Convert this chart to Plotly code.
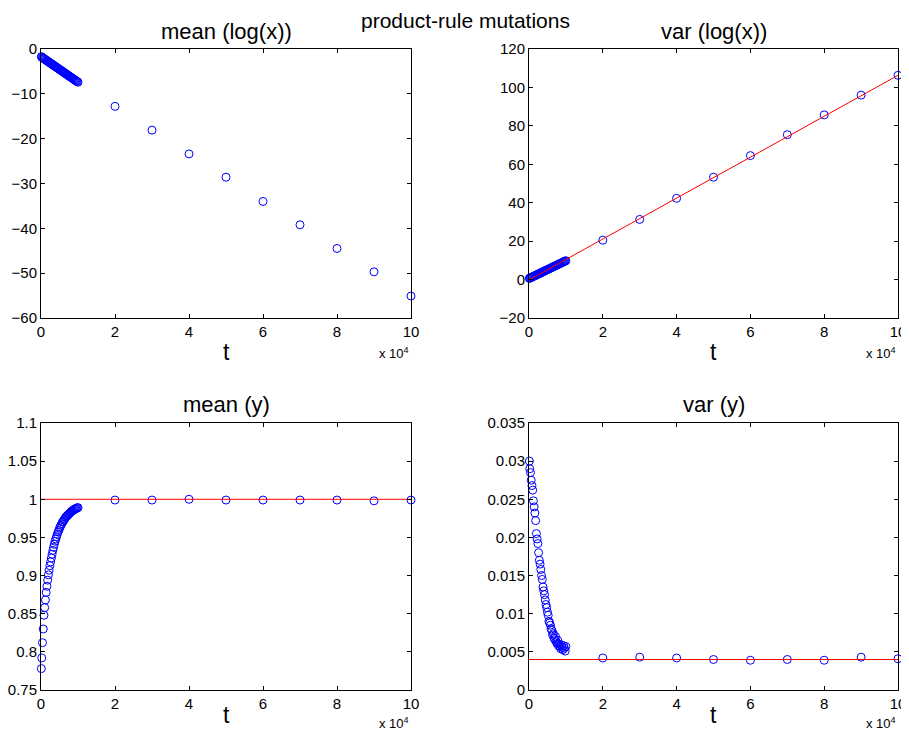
import plotly.graph_objects as go

# ---------------- data ----------------
t_cluster = [100, 200, 400, 600, 800, 1000, 1200, 1400, 1600, 1800,
             2000, 2200, 2400, 2600, 2800, 3000, 3200, 3400, 3600, 3800,
             4000, 4200, 4400, 4600, 4800, 5000, 5200, 5400, 5600, 5800,
             6000, 6200, 6400, 6600, 6800, 7000, 7200, 7400, 7600, 7800,
             8000, 8200, 8400, 8600, 8800, 9000, 9200, 9400, 9600, 9800, 10000]
t_far = [20000, 30000, 40000, 50000, 60000, 70000, 80000, 90000, 100000]

mean_logx_cluster = [-1.70, -1.81, -1.93, -2.04, -2.16, -2.27, -2.38, -2.50, -2.61, -2.73,
                     -2.84, -2.95, -3.07, -3.18, -3.30, -3.41, -3.52, -3.64, -3.75, -3.87,
                     -3.98, -4.09, -4.21, -4.32, -4.44, -4.55, -4.66, -4.78, -4.89, -5.01,
                     -5.12, -5.23, -5.35, -5.46, -5.58, -5.69, -5.80, -5.92, -6.03, -6.15,
                     -6.26, -6.37, -6.49, -6.60, -6.72, -6.83, -6.94, -7.06, -7.17, -7.29, -7.40]
mean_logx_far = [-12.8, -18.1, -23.4, -28.6, -34.0, -39.2, -44.5, -49.7, -55.1]

var_logx_cluster = [0.6, 0.75, 0.9, 1.1, 1.3, 1.45, 1.65, 1.85, 2.0, 2.2,
                    2.4, 2.55, 2.75, 2.95, 3.15, 3.3, 3.5, 3.7, 3.85, 4.05,
                    4.25, 4.45, 4.6, 4.8, 5.0, 5.2, 5.35, 5.55, 5.75, 5.9,
                    6.1, 6.3, 6.5, 6.65, 6.85, 7.05, 7.2, 7.4, 7.6, 7.8,
                    7.95, 8.15, 8.35, 8.5, 8.7, 8.9, 9.1, 9.25, 9.45, 9.65, 9.8]
var_logx_far = [20.5, 31.3, 42.3, 53.3, 64.5, 75.4, 85.7, 96.0, 106.3]
var_logx_fit_t = [0, 100000]
var_logx_fit = [-0.2, 106.3]

mean_y_cluster = [0.778, 0.792, 0.812, 0.830, 0.848, 0.858, 0.868, 0.878, 0.886, 0.894,
                  0.901, 0.907, 0.913, 0.918, 0.923, 0.928, 0.933, 0.937, 0.941, 0.945,
                  0.948, 0.951, 0.954, 0.957, 0.959, 0.962, 0.964, 0.966, 0.968, 0.970,
                  0.971, 0.973, 0.974, 0.976, 0.977, 0.978, 0.979, 0.980, 0.981, 0.982,
                  0.983, 0.984, 0.985, 0.985, 0.986, 0.987, 0.987, 0.988, 0.988, 0.989, 0.989]
mean_y_far = [0.999, 0.999, 1.000, 0.999, 0.999, 0.999, 0.999, 0.998, 0.999]
mean_y_fit = [1.0, 1.0]

var_y_cluster = [0.0300, 0.0290, 0.0285, 0.0275, 0.0268, 0.0262, 0.0248, 0.0240, 0.0232, 0.0222,
                 0.0205, 0.0198, 0.0192, 0.0180, 0.0170, 0.0165, 0.0158, 0.0150, 0.0145, 0.0135,
                 0.0130, 0.0125, 0.0118, 0.0112, 0.0108, 0.0102, 0.0098, 0.0090, 0.0088, 0.0085,
                 0.0080, 0.0078, 0.0072, 0.0074, 0.0068, 0.0066, 0.0070, 0.0063, 0.0061, 0.0065,
                 0.0058, 0.0060, 0.0057, 0.0054, 0.0059, 0.0056, 0.0053, 0.0058, 0.0055, 0.0051, 0.0057]
var_y_far = [0.0042, 0.0043, 0.0042, 0.0040, 0.0039, 0.0040, 0.0039, 0.0043, 0.0041]
var_y_fit = [0.004, 0.004]
fit_t = [0, 100000]

x_tickvals = [0, 20000, 40000, 60000, 80000, 100000]
x_ticktext = ["0", "2", "4", "6", "8", "10"]

titles = ["mean (log(x))", "var (log(x))", "mean (y)", "var (y)"]
suptitle = "product-rule mutations"

# ---------------- layout helpers ----------------
# the page body has an 8px margin: the figure starts at page pixel (8, 8)
OFF = 8
W, H = 909 - OFF, 736 - OFF
def fx(px):
    return (px - OFF) / W
def fy(py):
    return 1 - (py - OFF) / H

FONT = "Liberation Sans, Arial, sans-serif"
BLUE = "#0000FF"
RED = "#FF0000"

# (xaxis, yaxis, left, right, top, bottom, yrange, yticks, t-label y, x10^4 y)
panels = [
    ("x", "y", 41, 411, 49, 318, [-60, 0], [-60, -50, -40, -30, -20, -10, 0], 352, 353),
    ("x2", "y2", 529, 898, 49, 318, [-20, 120], [-20, 0, 20, 40, 60, 80, 100, 120], 352, 353),
    ("x3", "y3", 41, 411, 423, 690, [0.75, 1.1], [0.75, 0.8, 0.85, 0.9, 0.95, 1, 1.05, 1.1], 715, 723),
    ("x4", "y4", 529, 898, 423, 690, [0, 0.035], [0, 0.005, 0.01, 0.015, 0.02, 0.025, 0.03, 0.035], 715, 723),
]

fig = go.Figure()

clusters = [mean_logx_cluster, var_logx_cluster, mean_y_cluster, var_y_cluster]
fars = [mean_logx_far, var_logx_far, mean_y_far, var_y_far]
fits = [None, (var_logx_fit_t, var_logx_fit), (fit_t, mean_y_fit), (fit_t, var_y_fit)]

for i, p in enumerate(panels):
    xa, ya = p[0], p[1]
    fig.add_trace(go.Scatter(
        x=t_cluster + t_far, y=clusters[i] + fars[i], mode="markers",
        xaxis=xa, yaxis=ya, cliponaxis=False, showlegend=False,
        marker=dict(symbol="circle-open", size=8, color=BLUE, line=dict(width=1, color=BLUE)),
    ))
    if fits[i] is not None:
        fig.add_trace(go.Scatter(
            x=fits[i][0], y=fits[i][1], mode="lines", xaxis=xa, yaxis=ya,
            showlegend=False, line=dict(color=RED, width=1),
        ))

layout = dict(
    template="none",
    width=W, height=H, margin=dict(l=0, r=0, t=0, b=0, autoexpand=False),
    paper_bgcolor="white", plot_bgcolor="white",
    font=dict(family=FONT, color="black"),
    showlegend=False,
)
annotations = []
for i, (xa, ya, x0, x1, yt, yb, yr, ytv, ty, sy) in enumerate(panels):
    xkey = "xaxis" + xa[1:]
    ykey = "yaxis" + ya[1:]
    layout[xkey] = dict(
        domain=[fx(x0), fx(x1)], range=[0, 100000], anchor=ya, automargin=False,
        tickvals=x_tickvals, ticktext=x_ticktext,
        ticks="inside", ticklen=4, tickcolor="black", tickwidth=1,
        showline=True, linecolor="black", linewidth=1, mirror="ticks",
        showgrid=False, zeroline=False, tickfont=dict(size=15, family=FONT),
    )
    layout[ykey] = dict(
        domain=[fy(yb), fy(yt)], range=yr, anchor=xa, automargin=False,
        tickvals=ytv,
        ticks="inside", ticklen=4, tickcolor="black", tickwidth=1,
        showline=True, linecolor="black", linewidth=1, mirror="ticks",
        showgrid=False, zeroline=False, tickfont=dict(size=15, family=FONT),
    )
    cx = (x0 + x1) / 2
    annotations.append(dict(text=titles[i], x=fx(cx), y=fy(yt - 18), xref="paper", yref="paper",
                            xanchor="center", yanchor="middle", showarrow=False,
                            font=dict(size=22, family=FONT)))
    annotations.append(dict(text="t", x=fx(cx), y=fy(ty), xref="paper", yref="paper",
                            xanchor="center", yanchor="middle", showarrow=False,
                            font=dict(size=23, family=FONT)))
    annotations.append(dict(text="x 10<sup>4</sup>", x=fx(x1 - 17), y=fy(sy), xref="paper", yref="paper",
                            xanchor="center", yanchor="middle", showarrow=False,
                            font=dict(size=13, family=FONT)))

annotations.append(dict(text=suptitle, x=fx(465), y=fy(20), xref="paper", yref="paper",
                        xanchor="center", yanchor="middle", showarrow=False,
                        font=dict(size=21, family=FONT)))
layout["annotations"] = annotations
fig.update_layout(**layout)

fig.write_html("out.html")
